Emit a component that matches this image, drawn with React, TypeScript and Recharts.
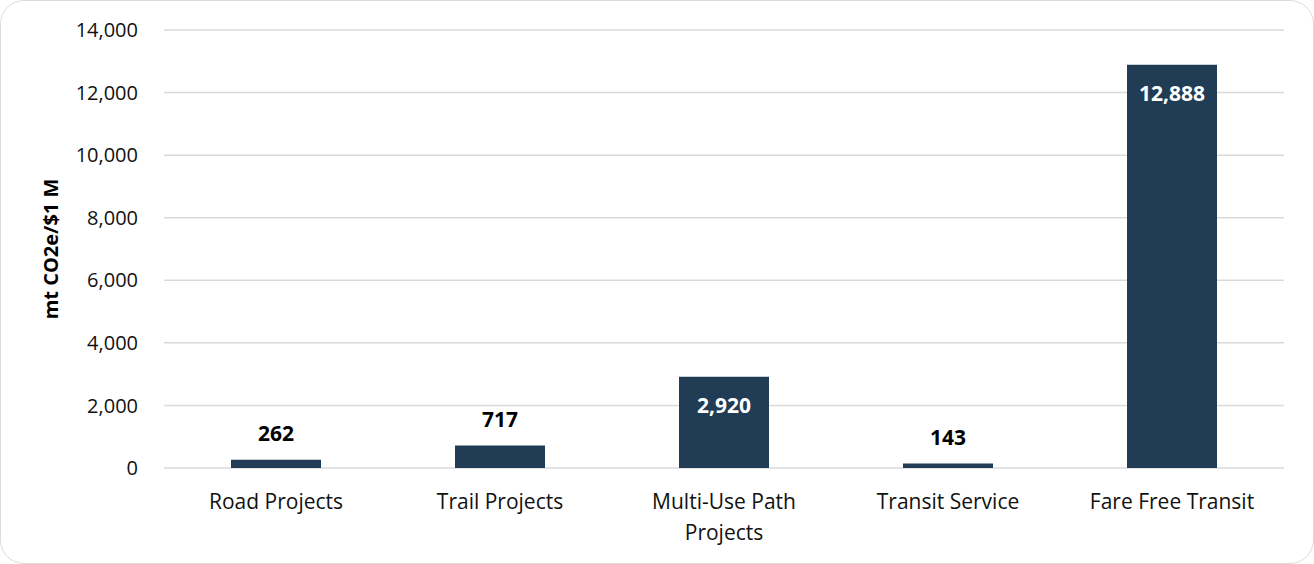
import { BarChart, Bar, XAxis, YAxis, CartesianGrid, LabelList } from "recharts";

// Emissions reduction per $1M by project type
const categories = [
    "Road Projects",
    "Trail Projects",
    "Multi-Use Path Projects",
    "Transit Service",
    "Fare Free Transit",
];
const values = [262, 717, 2920, 143, 12888];
const yTicks = [0, 2000, 4000, 6000, 8000, 10000, 12000, 14000];

const COLORS = {
    bar: "#213c55",
    grid: "#d9d9d9",
    text: "#111111",
    border: "#dcdcdc",
};

const FONT = "'Open Sans', sans-serif";

const data = categories.map((name, i) => ({ name, value: values[i] }));

const fmt = (v: number) => v.toLocaleString("en-US");

// split a label into lines of at most maxChars characters
function wrapLabel(label: string, maxChars = 18): string[] {
    const lines: string[] = [];
    let line = "";
    for (const word of label.split(" ")) {
        const next = line ? `${line} ${word}` : word;
        if (next.length > maxChars && line) {
            lines.push(line);
            line = word;
        } else {
            line = next;
        }
    }
    if (line) lines.push(line);
    return lines;
}

// category labels, wrapped when too long
function CategoryTick(props: any) {
    const { x, y, payload } = props;
    const lines = wrapLabel(String(payload.value));
    return (
        <text
            x={x}
            y={y}
            textAnchor="middle"
            fontSize={21}
            fontFamily={FONT}
            fill={COLORS.text}
        >
            {lines.map((l, i) => (
                <tspan key={i} x={x} dy={i === 0 ? "0.71em" : 31}>
                    {l}
                </tspan>
            ))}
        </text>
    );
}

// big bars get the value inside in white, small ones above in black
function ValueLabel(props: any) {
    const { x, y, width, value } = props;
    const inside = value > 2000;
    return (
        <text
            x={x + width / 2}
            y={inside ? y + 29 : y - 26}
            dy="0.35em"
            textAnchor="middle"
            fontSize={21}
            fontWeight={700}
            fontFamily={FONT}
            fill={inside ? "#ffffff" : "#000000"}
        >
            {fmt(value)}
        </text>
    );
}

export default function App() {
    return (
        <div style={styles.card}>
            <BarChart
                width={1314}
                height={564}
                data={data}
                margin={{ top: 29, right: 31, bottom: 0, left: 0 }}
            >
                <CartesianGrid vertical={false} stroke={COLORS.grid} strokeWidth={1.5} />
                <XAxis
                    dataKey="name"
                    axisLine={false}
                    tickLine={false}
                    tickSize={0}
                    height={97}
                    interval={0}
                    tick={(p: any) => <CategoryTick {...p} />}
                    tickMargin={26}
                />
                <YAxis
                    width={163}
                    domain={[0, 14000]}
                    ticks={yTicks}
                    axisLine={false}
                    tickLine={false}
                    tickSize={0}
                    tickMargin={26}
                    tickFormatter={fmt}
                    tick={{ fontSize: 20, fontFamily: FONT, fill: COLORS.text }}
                    label={{
                        value: "mt CO2e/$1 M",
                        angle: -90,
                        position: "insideLeft",
                        offset: 50,
                        style: {
                            textAnchor: "middle",
                            fontSize: 20,
                            fontWeight: 700,
                            fontFamily: FONT,
                            fill: "#000000",
                        },
                    }}
                />
                <Bar dataKey="value" fill={COLORS.bar} barSize={90} isAnimationActive={false}>
                    <LabelList dataKey="value" content={<ValueLabel />} />
                </Bar>
            </BarChart>
        </div>
    );
}

const styles: Record<string, React.CSSProperties> = {
    card: {
        position: "absolute",
        top: 0,
        left: 0,
        width: 1314,
        height: 564,
        boxSizing: "border-box",
        border: `1.5px solid ${COLORS.border}`,
        borderRadius: 24,
        background: "#ffffff",
        overflow: "hidden",
    },
};
